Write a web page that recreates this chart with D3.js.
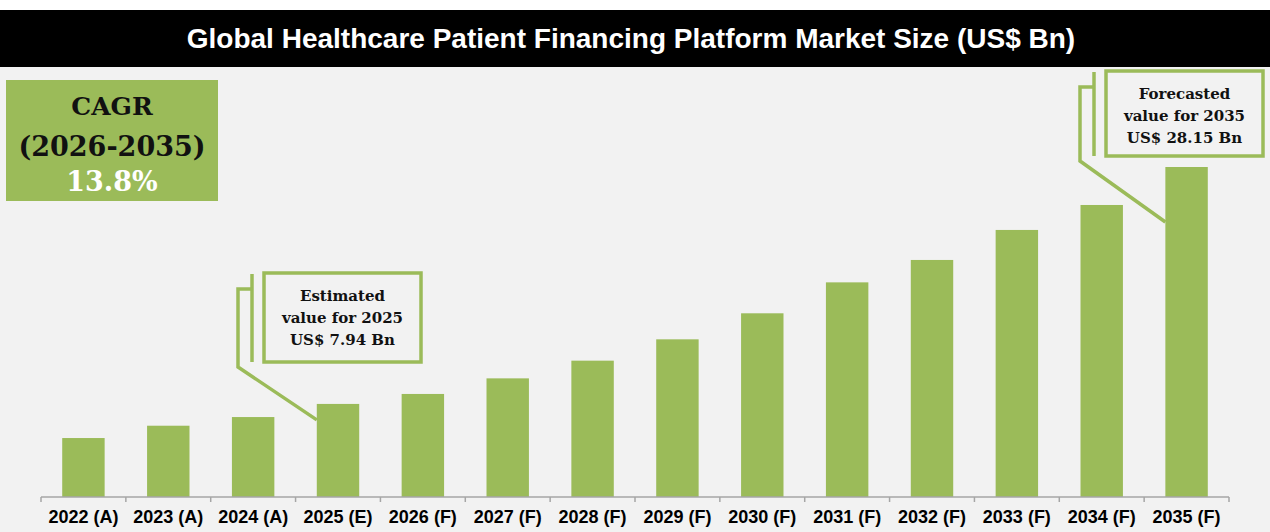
<!DOCTYPE html>
<html>
<head>
<meta charset="utf-8">
<script src="https://cdn.jsdelivr.net/npm/d3@7"></script>
<style>
  body { margin: 0; background: #fff; }
  svg { display: block; }
</style>
</head>
<body>
<div id="chart"></div>
<script>
// data
const years = ["2022 (A)", "2023 (A)", "2024 (A)", "2025 (E)", "2026 (F)", "2027 (F)", "2028 (F)",
  "2029 (F)", "2030 (F)", "2031 (F)", "2032 (F)", "2033 (F)", "2034 (F)", "2035 (F)"];
const marketSize = [5.03, 6.08, 6.82, 7.94, 8.79, 10.12, 11.63, 13.45, 15.67, 18.31, 20.22, 22.78, 24.91, 28.15];
const titleText = "Global Healthcare Patient Financing Platform Market Size (US$ Bn)";
const cagrLines = ["CAGR", "(2026-2035)", "13.8%"];
const estLines = ["Estimated", "value for 2025", "US$ 7.94 Bn"];
const fcLines = ["Forecasted", "value for 2035", "US$ 28.15 Bn"];

const width = 1270, height = 532;
const green = "#9BBB59";
const margin = { left: 41, right: 41, bottom: 35 };
const baseY = height - margin.bottom;

const svg = d3.select("#chart").append("svg")
    .attr("width", width)
    .attr("height", height);

svg.append("rect").attr("width", width).attr("height", height).attr("fill", "#F2F2F2");
svg.append("rect").attr("width", width).attr("height", 10).attr("fill", "#fff");

// title bar
svg.append("rect")
    .attr("x", 0).attr("y", 10)
    .attr("width", width).attr("height", 57)
    .attr("fill", "#000");
svg.append("text")
    .attr("x", 631).attr("y", 38)
    .attr("text-anchor", "middle")
    .attr("dominant-baseline", "central")
    .attr("font-family", "'Liberation Sans', Arial, sans-serif")
    .attr("font-weight", "bold")
    .attr("font-size", 28)
    .attr("fill", "#fff")
    .text(titleText);

var x = d3.scaleBand()
    .domain(years)
    .range([margin.left, width - margin.right])
    .paddingInner(0.5)
    .paddingOuter(0.25);

var y = d3.scaleLinear()
    .domain([0, 28.15])
    .range([baseY, 167]);

// bars
svg.selectAll(".bar")
    .data(years)
    .enter()
    .append("rect")
    .attr("class", "bar")
    .attr("x", d => x(d))
    .attr("y", (d, i) => y(marketSize[i]))
    .attr("width", x.bandwidth())
    .attr("height", (d, i) => baseY - y(marketSize[i]))
    .attr("fill", green);

// axis: labels from the band scale, ticks on band boundaries
var axisX = d3.axisBottom(x).tickSize(0).tickPadding(13);
var gx = svg.append("g")
    .attr("transform", "translate(0," + baseY + ")")
    .call(axisX);
gx.select(".domain").remove();
gx.selectAll("text")
    .attr("font-family", "'Liberation Sans', Arial, sans-serif")
    .attr("font-weight", "bold")
    .attr("font-size", 18)
    .attr("fill", "#000");

svg.append("line")
    .attr("x1", margin.left).attr("x2", width - margin.right)
    .attr("y1", baseY).attr("y2", baseY)
    .attr("stroke", "#A6A6A6").attr("stroke-width", 1.5);
svg.selectAll(".tk")
    .data(d3.range(years.length + 1))
    .enter()
    .append("line")
    .attr("class", "tk")
    .attr("x1", i => margin.left + i * x.step())
    .attr("x2", i => margin.left + i * x.step())
    .attr("y1", baseY).attr("y2", baseY + 5)
    .attr("stroke", "#A6A6A6").attr("stroke-width", 1.5);

// CAGR box
svg.append("rect")
    .attr("x", 6).attr("y", 80)
    .attr("width", 212).attr("height", 121)
    .attr("fill", green);
var cagrY = [106, 146, 181];
var cagrSize = [25, 27, 27];
svg.selectAll(".cagr")
    .data(cagrLines)
    .enter()
    .append("text")
    .attr("class", "cagr")
    .attr("x", 112)
    .attr("y", (d, i) => cagrY[i])
    .attr("text-anchor", "middle")
    .attr("dominant-baseline", "central")
    .attr("font-family", "'DejaVu Serif', serif")
    .attr("font-weight", "bold")
    .attr("font-size", (d, i) => cagrSize[i])
    .attr("fill", (d, i) => i == 2 ? "#fff" : "#111")
    .text(d => d);

// callouts
function callout(box, lines, barIdx, dropY) {
    var g = svg.append("g");
    g.append("rect")
        .attr("x", box.x).attr("y", box.y)
        .attr("width", box.w).attr("height", box.h)
        .attr("fill", "none")
        .attr("stroke", green).attr("stroke-width", 3.5);
    g.append("line")
        .attr("x1", box.x - 12).attr("x2", box.x - 12)
        .attr("y1", box.y + 1).attr("y2", box.y + box.h)
        .attr("stroke", green).attr("stroke-width", 3.5);
    var ex = x(years[barIdx]);
    var ey = y(marketSize[barIdx]) + dropY;
    g.append("path")
        .attr("d", "M" + (box.x - 11) + "," + (box.y + 16) + "H" + (box.x - 26) +
            "V" + (box.y + box.h + 5) + "L" + ex + "," + ey)
        .attr("fill", "none")
        .attr("stroke", green).attr("stroke-width", 3.5);
    g.selectAll("text")
        .data(lines)
        .enter()
        .append("text")
        .attr("x", box.x + box.w / 2)
        .attr("y", (d, i) => box.y + 23 + i * 22)
        .attr("text-anchor", "middle")
        .attr("dominant-baseline", "central")
        .attr("font-family", "'DejaVu Serif', serif")
        .attr("font-weight", "bold")
        .attr("font-size", 15)
        .attr("fill", "#111")
        .text(d => d);
}

callout({ x: 264, y: 273, w: 157, h: 89 }, estLines, 3, 16);
callout({ x: 1106, y: 71, w: 157, h: 85 }, fcLines, 13, 55);
</script>
</body>
</html>
